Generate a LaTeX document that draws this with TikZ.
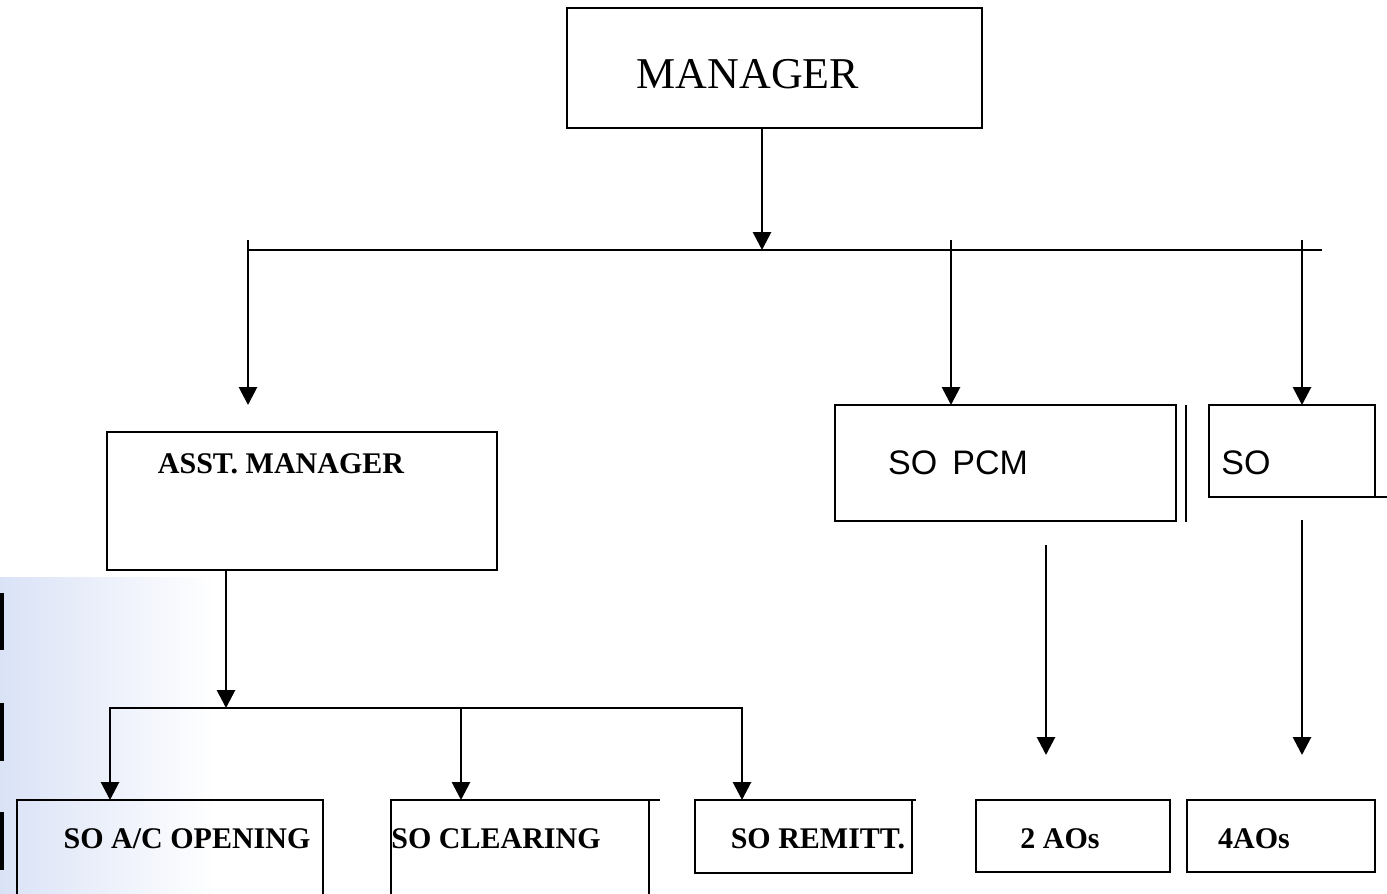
\documentclass[tikz,border=0pt]{standalone}
\usepackage{fontspec}
\setmainfont{Liberation Serif}
\newfontfamily\arialf{Liberation Sans}
\usetikzlibrary{arrows.meta,fit}
\begin{document}
\begin{tikzpicture}[x=0.5pt,y=-0.5pt,
  ln/.style={line width=1.4pt},
  arr/.style={line width=1.4pt,-{Triangle[width=9pt,length=9pt]}},
  box/.style={draw,line width=1.4pt,rectangle,inner sep=0pt,outer sep=0pt},
  lbl/.style={font=\bfseries\fontsize{15}{18}\selectfont,inner sep=0pt},
  sanslbl/.style={font=\arialf\fontsize{17}{20}\selectfont,inner sep=0pt},
  ]
\useasboundingbox (0,0) rectangle (1387,894);
% scan artefacts at the left edge
\shade[left color={rgb,255:red,218;green,226;blue,246},right color=white] (0,577) rectangle (215,894);
\fill[black] (0,593) rectangle (4,650);
\fill[black] (0,703) rectangle (4,761);
\fill[black] (0,812) rectangle (4,870);

% boxes
\node[box,fit={(567,8) (982,128)}] (manager) {};
\node[box,fit={(107,432) (497,570)}] (asst) {};
\node[box,fit={(835,405) (1176,521)}] (pcm) {};
\node[box,fit={(1209,405) (1375,497)}] (so) {};
\node[box,fit={(17,800) (323,920)}] (aoa) {};
\node[box,fit={(391,800) (649,920)}] (clr) {};
\node[box,fit={(695,800) (912,873)}] (rem) {};
\node[box,fit={(976,800) (1170,872)}] (aotwo) {};
\node[box,fit={(1187,800) (1375,872)}] (aofour) {};

% small line remnants
\coordinate (e1) at (1186,405); \coordinate (e2) at (1186,522);
\draw[ln] (e1) -- (e2);
\coordinate (e3) at (1387,497);
\draw[ln] (so.south east) -- (e3);
\coordinate (e4) at (660,800);
\draw[ln] (clr.north east) -- (e4);
\coordinate (e5) at (916,800);
\draw[ln] (rem.north east) -- (e5);

% texts
\node[font=\fontsize{22}{26}\selectfont,inner sep=0pt] (tmanager) at (748,74) {MANAGER};
\node[lbl] (tasst) at (281,464) {ASST. MANAGER};
\node[sanslbl] (tpcm) at (958,463) {SO\, PCM};
\node[sanslbl] (tso) at (1246,463) {SO};
\node[lbl] (taoa) at (187,839) {SO A/C OPENING};
\node[lbl] (tclr) at (496,839) {SO CLEARING};
\node[lbl] (trem) at (818,839) {SO REMITT.};
\node[lbl] (taotwo) at (1060,839) {2 AOs};
\node[lbl] (taofour) at (1254,839) {4AOs};

% connectors
\coordinate (b1) at (762,250);
\draw[arr] (manager.south -| b1) -- (b1);
\coordinate (bL) at (248,250);
\coordinate (bR) at (1322,250);
\draw[ln] (bL) -- (bR);
\coordinate (t1) at (248,240);
\coordinate (t2) at (951,240);
\coordinate (t3) at (1302,240);
\draw[arr,shorten >=13.5pt] (t1) -- (t1 |- asst.north);
\draw[arr] (t2) -- (t2 |- pcm.north);
\draw[arr] (t3) -- (t3 |- so.north);

\coordinate (b2) at (226,708);
\coordinate (b2L) at (110,708);
\coordinate (b2M) at (461,708);
\coordinate (b2R) at (742,708);
\draw[arr] (asst.south -| b2) -- (b2);
\draw[ln,line cap=rect] (b2L) -- (b2R);
\draw[arr] (b2L) -- (b2L |- aoa.north);
\draw[arr] (b2M) -- (b2M |- clr.north);
\draw[arr] (b2R) -- (b2R |- rem.north);

\coordinate (x1) at (1046,545);
\coordinate (x2) at (1046,755);
\draw[arr] (x1) -- (x2);
\coordinate (y1) at (1302,520);
\coordinate (y2) at (1302,755);
\draw[arr] (y1) -- (y2);
\end{tikzpicture}
\end{document}
